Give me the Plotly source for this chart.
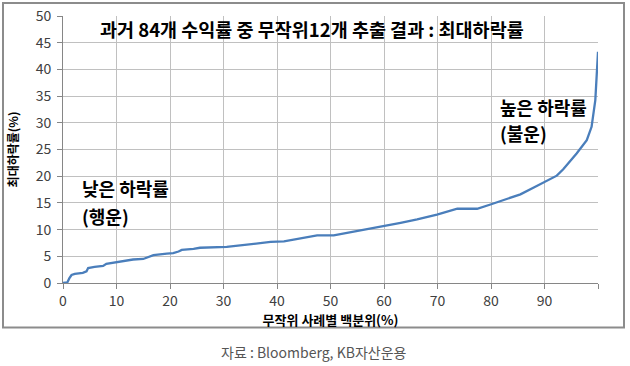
import plotly.graph_objects as go

# Percentile of random cases (%) and max drawdown (%)
pct = [0, 0.8, 1.2, 1.6, 2.2, 3.7, 4.4, 4.7, 5.9, 7.5, 8.1, 10, 13.1, 15, 15.8,
       16.9, 19.4, 20.6, 21.6, 22.2, 24.4, 25.6, 30.6, 31.9, 34.4, 36.9, 38.8,
       41.3, 43.1, 45.6, 47.5, 50.6, 52.5, 55.3, 58.1, 60.6, 63.1, 66.2, 69.9,
       73.7, 77.4, 79.9, 82.4, 85.5, 88, 90.1, 92.3, 93.5, 96, 97.9, 98.8, 99.5,
       99.8, 100]
drawdown = [0, 0.1, 0.9, 1.5, 1.7, 1.9, 2.2, 2.8, 3.0, 3.2, 3.6, 3.9, 4.4, 4.5,
            4.8, 5.2, 5.5, 5.6, 5.9, 6.2, 6.4, 6.6, 6.75, 6.9, 7.25, 7.4, 7.7,
            7.8, 8.1, 8.5, 8.9, 8.9, 9.25, 9.7, 10.3, 10.75, 11.25, 11.9, 12.8,
            13.9, 13.9, 14.7, 15.6, 16.6, 17.9, 18.9, 20.1, 21.3, 24.25, 26.75,
            29.25, 34.25, 40.5, 43.3]

x_tickvals = [0, 10, 20, 30, 40, 50, 60, 70, 80, 90, 100]
x_ticktext = ["0", "10", "20", "30", "40", "50", "60", "70", "80", "90", ""]
y_tickvals = [0, 5, 10, 15, 20, 25, 30, 35, 40, 45, 50]

title_text = "과거 84개 수익률 중 무작위12개 추출 결과 : 최대하락률"
x_title = "무작위 사례별 백분위(%)"
y_title = "최대하락률(%)"
source_text = "자료 : Bloomberg, KB자산운용"
low_label = ["낮은 하락률", "(행운)"]
high_label = ["높은 하락률", "(불운)"]

FONT = "Noto Sans CJK KR, Malgun Gothic, sans-serif"

# plot area in pixels (for converting paper coords)
L, R, T, B = 63, 598, 16, 283
W, H = R - L, B - T


def px(xp):
    return (xp - L) / W


def py(yp):
    return (B - yp) / H


fig = go.Figure()
fig.add_trace(go.Scatter(
    x=pct, y=drawdown, mode="lines",
    line=dict(color="#4a7ebb", width=2.3),
    showlegend=False, hoverinfo="skip",
))

fig.update_layout(
    width=630, height=366,
    margin=dict(l=L, r=630 - R, t=T, b=366 - B, autoexpand=False),
    paper_bgcolor="white", plot_bgcolor="white",
    font=dict(family=FONT, size=12, color="#404040"),
    xaxis=dict(
        range=[0, 100], tickvals=x_tickvals, ticktext=x_ticktext,
        showgrid=True, gridcolor="#c0c0c0", gridwidth=1,
        showline=True, linecolor="#868686", linewidth=1,
        ticks="outside", ticklen=5, tickcolor="#868686",
        zeroline=False, tickfont=dict(size=14, color="#404040"),
        automargin=False,
        title=dict(text="<b>" + x_title + "</b>", standoff=0,
                   font=dict(size=13, color="#000000")),
    ),
    yaxis=dict(
        range=[0, 50], tickvals=y_tickvals,
        showgrid=True, gridcolor="#c0c0c0", gridwidth=1,
        showline=True, linecolor="#868686", linewidth=1,
        ticks="outside", ticklen=5, tickcolor="#868686",
        zeroline=False, tickfont=dict(size=14, color="#404040"),
        ticklabelstandoff=3,
        automargin=False,
        title=dict(text="<b>" + y_title + "</b>", standoff=14,
                   font=dict(size=12, color="#000000")),
    ),
)

fig.add_annotation(x=px(312), y=py(29), xref="paper", yref="paper",
                   text="<b>" + title_text + "</b>", showarrow=False,
                   xanchor="center", yanchor="middle",
                   font=dict(size=18.5, color="#000000"))
LBL = 18
fig.add_annotation(x=3.2, y=17.8, text="<b>" + low_label[0] + "</b>", showarrow=False,
                   xanchor="left", yanchor="middle", font=dict(size=LBL, color="#000000"))
fig.add_annotation(x=3.2, y=12.6, text="<b>" + low_label[1] + "</b>", showarrow=False,
                   xanchor="left", yanchor="middle", font=dict(size=LBL, color="#000000"))
fig.add_annotation(x=81.3, y=32.9, text="<b>" + high_label[0] + "</b>", showarrow=False,
                   xanchor="left", yanchor="middle", font=dict(size=LBL, color="#000000"))
fig.add_annotation(x=81.3, y=28.0, text="<b>" + high_label[1] + "</b>", showarrow=False,
                   xanchor="left", yanchor="middle", font=dict(size=LBL, color="#000000"))

# source caption
fig.add_annotation(x=px(314), y=py(352), xref="paper", yref="paper",
                   text=source_text, showarrow=False, xanchor="center", yanchor="middle",
                   font=dict(size=14, color="#555555"))

# outer frame
fig.add_shape(type="rect", xref="paper", yref="paper",
              x0=px(3), x1=px(624), y0=py(327.5), y1=py(3),
              line=dict(color="#8c8c8c", width=2), fillcolor="rgba(0,0,0,0)",
              layer="below")

fig.write_html("out.html", config={"displayModeBar": False},
               post_script="document.body.style.margin='0';")
